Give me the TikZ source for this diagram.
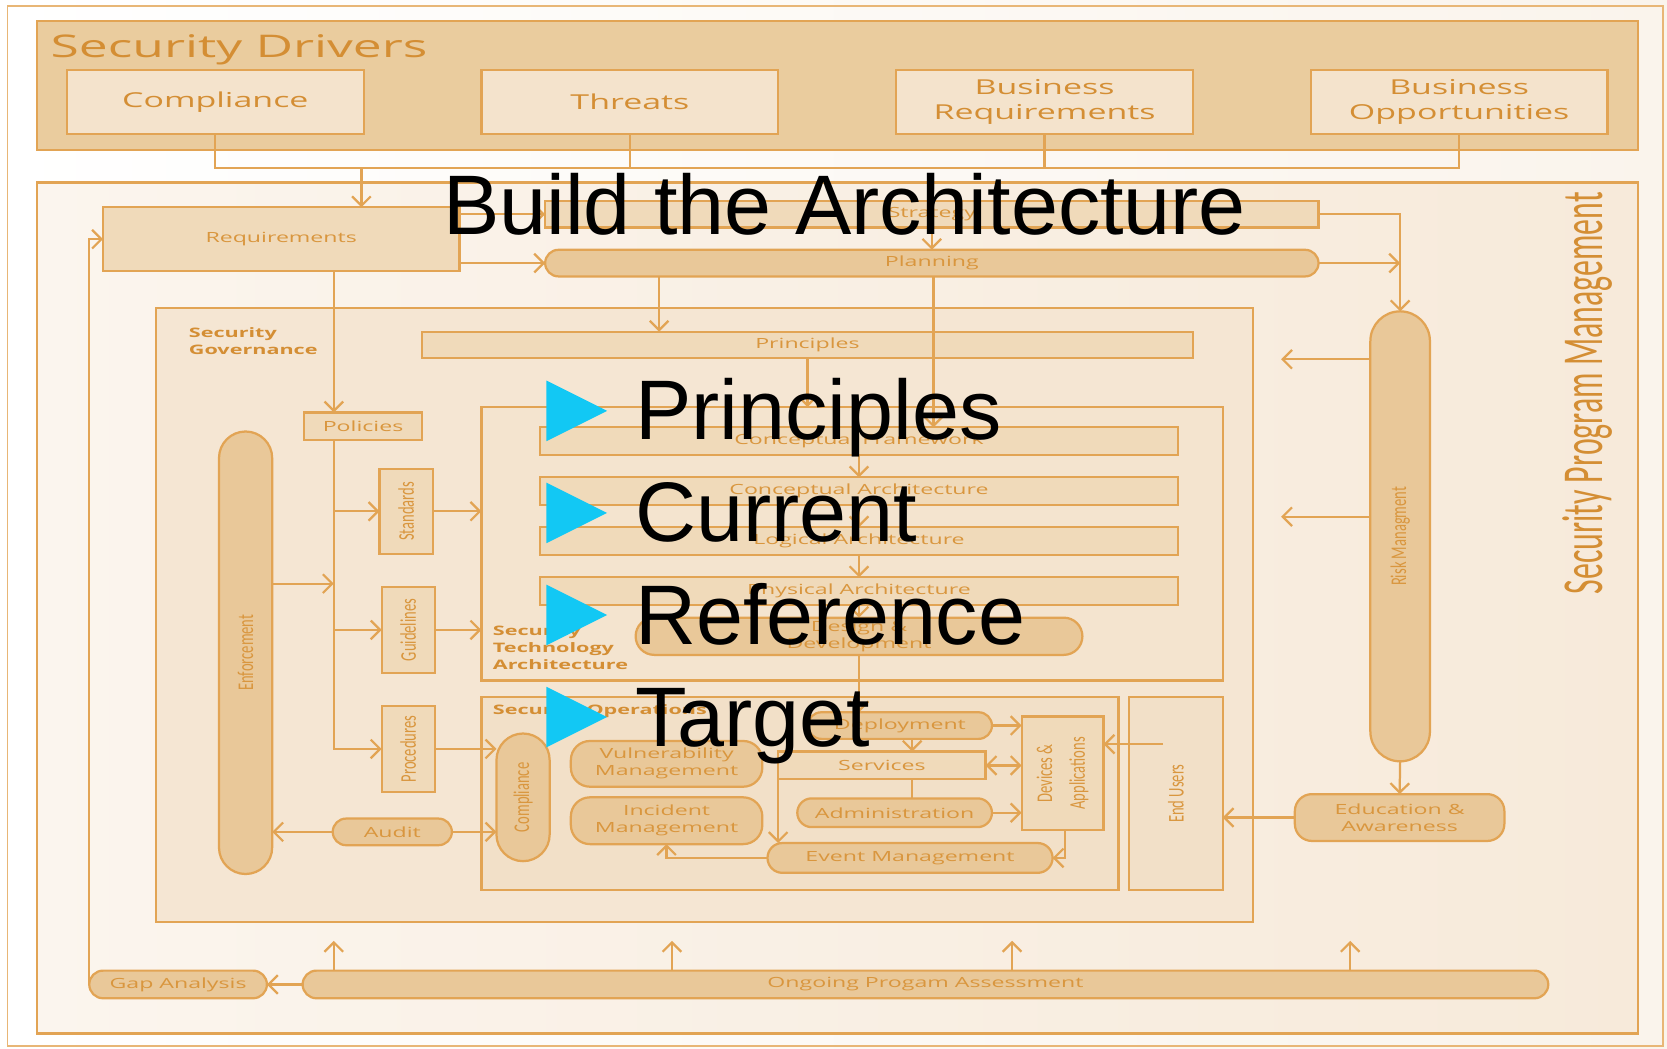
\documentclass[tikz,border=0pt]{standalone}
\usepackage{fontspec}
\setmainfont{Open Sans}
\newfontfamily\hs[FakeStretch=1.65]{Open Sans}
\newfontfamily\condS[FakeStretch=0.65]{Carlito}
\newfontfamily\condL[FakeStretch=0.55]{Carlito}
\newfontfamily\arl{Liberation Sans}
\usetikzlibrary{arrows.meta}
\definecolor{ln}{RGB}{226,164,84}
\definecolor{txt}{RGB}{217,150,62}
\definecolor{txtD}{RGB}{212,142,52}
\definecolor{boxF}{RGB}{240,218,186}
\definecolor{pillF}{RGB}{233,200,153}
\definecolor{dboxF}{RGB}{244,227,204}
\definecolor{bandF}{RGB}{234,204,158}
\definecolor{progL}{RGB}{251,245,238}
\definecolor{progR}{RGB}{247,234,218}
\definecolor{govF}{RGB}{245,230,211}
\definecolor{staF}{RGB}{244,228,207}
\definecolor{sopF}{RGB}{242,224,200}
\definecolor{bgR}{RGB}{250,244,236}
\definecolor{cyanB}{RGB}{18,200,244}
\tikzset{
 base/.style={draw=ln, line width=0.6pt, inner sep=0pt, outer sep=0pt, text=txt, align=center, rectangle},
 sm/.style={font=\hs\fontsize{3.75}{4.55}\selectfont},
 rbox/.style={base, sm, fill=boxF},
 pill/.style={base, sm, fill=pillF},
 dbox/.style={base, fill=dboxF, minimum width=2.79cm, minimum height=0.60cm, font=\hs\fontsize{5.5}{6.8}\selectfont, text=txtD},
 frm/.style={draw=ln, line width=0.6pt, inner sep=0pt, outer sep=0pt},
 con/.style={draw=ln, line width=0.6pt, -{Straight Barb[length=2.5pt,width=5pt]}},
 lnk/.style={draw=ln, line width=0.6pt},
 rlab/.style={font=\condS\fontsize{6}{8.8}\selectfont, text=txt, rotate=90, inner sep=0pt, align=center},
 boldlab/.style={font=\hs\bfseries\fontsize{3.5}{4.55}\selectfont, text=txtD, align=left, inner sep=0pt},
 big/.style={font=\arl\fontsize{22.6}{27}\selectfont, text=black, inner sep=0pt},
 blt/.style={fill=cyanB, draw=none}
}
\begin{document}
\begin{tikzpicture}[x=0.01cm,y=-0.01cm]
\useasboundingbox (0,0) rectangle (1568,986);
\fill[left color=white,right color=bgR] (0,0) rectangle (1568,986);
\draw[ln!80, line width=0.5pt] (7,6) rectangle (1564,984);

% ---------- Security Drivers ----------
\node[frm, fill=bandF, minimum width=15.05cm, minimum height=1.21cm] (drv) at (787.5,80.5) {};
\node[font=\hs\fontsize{8.35}{9}\selectfont, text=txtD, anchor=base west, inner sep=0pt] (drvT) at (47,54) {Security Drivers};
\node[dbox] (comp) at (202.5,96) {Compliance};
\node[dbox] (threats) at (592.5,96) {Threats};
\node[dbox] (bizreq) at (982.5,96) {Business\\Requirements};
\node[dbox] (bizopp) at (1372.5,96) {Business\\Opportunities};

% ---------- Program frame ----------
\node[frm, left color=progL, right color=progR, minimum width=15.05cm, minimum height=8.00cm] (prog) at (787.5,572) {};
\node[font=\condL\fontsize{15.5}{16}\selectfont, text=txtD, rotate=90, inner sep=0pt] (progT) at (1493,370) {Security Program Management};

\node[rbox, minimum width=3.35cm, minimum height=0.60cm] (req) at (264.5,225) {Requirements};
\node[rbox, minimum width=7.27cm, minimum height=0.25cm] (strat) at (876.5,201.5) {Strategy};
\node[pill, rounded corners=0.125cm, minimum width=7.27cm, minimum height=0.25cm] (plan) at (876.5,247.5) {Planning};

% ---------- Governance ----------
\node[frm, fill=govF, minimum width=10.31cm, minimum height=5.77cm] (gov) at (662.5,578.5) {};
\node[boldlab, anchor=west] (govT) at (177,321) {Security\\Governance};
\node[rbox, minimum width=7.25cm, minimum height=0.25cm] (princ) at (759.5,324.5) {Principles};
\node[rbox, minimum width=1.11cm, minimum height=0.26cm] (policies) at (341.5,401) {Policies};
\node[rbox, minimum width=0.50cm, minimum height=0.80cm] (std) at (382,481) {};
\node[rlab] (stdT) at (std.center) {Standards};
\node[rbox, minimum width=0.50cm, minimum height=0.81cm] (guide) at (384,592.5) {};
\node[rlab] (guideT) at (guide.center) {Guidelines};
\node[rbox, minimum width=0.50cm, minimum height=0.81cm] (proc) at (384,704.5) {};
\node[rlab] (procT) at (proc.center) {Procedures};
\node[pill, rounded corners=0.25cm, minimum width=0.50cm, minimum height=4.16cm] (enf) at (231,614) {};
\node[rlab] (enfT) at (enf.center) {Enforcement};
\node[pill, rounded corners=0.125cm, minimum width=1.12cm, minimum height=0.25cm] (audit) at (369,782.5) {Audit};

% ---------- Security Technology Architecture ----------
\node[frm, fill=staF, minimum width=6.97cm, minimum height=2.57cm] (sta) at (801.5,511.5) {};
\node[boldlab, anchor=west] (staT) at (463,609) {Security\\Technology\\Architecture};
\node[rbox, minimum width=6.00cm, minimum height=0.26cm] (cf) at (808,415) {Conceptual Framework};
\node[rbox, minimum width=6.00cm, minimum height=0.26cm] (ca) at (808,462) {Conceptual Architecture};
\node[rbox, minimum width=6.00cm, minimum height=0.26cm] (la) at (808,509) {Logical Architecture};
\node[rbox, minimum width=6.00cm, minimum height=0.26cm] (pa) at (808,556) {Physical Architecture};
\node[pill, rounded corners=0.175cm, minimum width=4.20cm, minimum height=0.35cm] (dd) at (808,598.5) {Design \&\\Development};

% ---------- Security Operations ----------
\node[frm, fill=sopF, minimum width=5.99cm, minimum height=1.81cm] (sop) at (752.5,746.5) {};
\node[boldlab, anchor=west] (sopT) at (463,669) {Security Operations};
\node[frm, fill=sopF, minimum width=0.88cm, minimum height=1.81cm] (endu) at (1106,746.5) {};
\node[rlab] (enduT) at (endu.center) {End Users};
\node[pill, rounded corners=0.25cm, minimum width=0.50cm, minimum height=1.20cm] (compl) at (492,750) {};
\node[rlab] (complT) at (compl.center) {Compliance};
\node[pill, rounded corners=0.18cm, minimum width=1.80cm, minimum height=0.43cm] (vuln) at (627,718.5) {Vulnerability\\Management};
\node[pill, rounded corners=0.18cm, minimum width=1.80cm, minimum height=0.44cm] (inc) at (627,772) {Incident\\Management};
\node[pill, rounded corners=0.125cm, minimum width=1.73cm, minimum height=0.25cm] (deploy) at (846.5,682.5) {Deployment};
\node[rbox, minimum width=1.95cm, minimum height=0.26cm] (serv) at (829.5,720) {Services};
\node[pill, rounded corners=0.135cm, minimum width=1.83cm, minimum height=0.27cm] (admin) at (841.5,764.5) {Administration};
\node[pill, rounded corners=0.14cm, minimum width=2.68cm, minimum height=0.28cm] (event) at (856,807) {Event Management};
\node[rbox, minimum width=0.77cm, minimum height=1.07cm] (dev) at (999.5,727.5) {};
\node[rlab] (devT) at (dev.center) {Devices \&\\Applications};

% ---------- Right side ----------
\node[pill, rounded corners=0.28cm, minimum width=0.56cm, minimum height=4.23cm] (risk) at (1317,504.5) {};
\node[rlab] (riskT) at (risk.center) {Risk Managment};
\node[pill, rounded corners=0.16cm, minimum width=1.97cm, minimum height=0.44cm] (edu) at (1316.5,769) {Education \&\\Awareness};

% ---------- Bottom ----------
\node[pill, rounded corners=0.13cm, minimum width=1.67cm, minimum height=0.26cm] (gap) at (167.5,926) {Gap Analysis};
\node[pill, rounded corners=0.13cm, minimum width=11.71cm, minimum height=0.26cm] (ongo) at (870.5,926) {Ongoing Progam Assessment};

% ---------- helper coordinates ----------
\coordinate (bus) at (340,158);
\coordinate (x314) at (314,0);
\coordinate (x620) at (620,0);
\coordinate (x878) at (878,0);
\coordinate (x858) at (858,0);
\coordinate (x1002) at (1002,0);
\coordinate (x1205) at (1205,0);
\coordinate (x632) at (632,0);
\coordinate (x952) at (952,0);
\coordinate (x1270) at (1270,0);
\coordinate (y338) at (0,338);
\coordinate (y486) at (0,486);
\coordinate (y549) at (0,549);
\coordinate (eu1) at (1094,700);

% ---------- connectors ----------
\draw[lnk] (comp.south) |- (bizopp.south |- bus) -- (bizopp.south);
\draw[lnk] (threats.south) -- (threats.south |- bus);
\draw[lnk] (bizreq.south) -- (bizreq.south |- bus);
\draw[con] (bus) -- (bus |- req.north);

\draw[con] (req.east |- strat.west) -- (strat.west);
\draw[con] (req.east |- plan.west) -- (plan.west);
\draw[con] (strat.south) -- (plan.north);
\draw[con] (strat.east) -| (risk.north);
\draw[con] (plan.east) -- (plan.east -| risk.north);
\draw[con] (x620 |- plan.south) -- (x620 |- princ.north);
\draw[con] (x878 |- plan.south) -- (x878 |- cf.north);
\draw[con] (princ.south) -- (princ.south |- sta.north);

\draw[con] (x314 |- req.south) -- (x314 |- policies.north);
\draw[con] (x314 |- policies.south) |- (proc.west);
\draw[con] (x314 |- std.west) -- (std.west);
\draw[con] (x314 |- guide.west) -- (guide.west);
\draw[con] (std.east) -- (std.east -| sta.west);
\draw[con] (guide.east) -- (guide.east -| sta.west);
\draw[con] (proc.east) -- (proc.east -| compl.west);
\draw[con] (enf.east |- y549) -- (x314 |- y549);
\draw[con] (audit.west) -- (audit.west -| enf.east);
\draw[con] (audit.east) -- (audit.east -| compl.west);

\draw[con] (cf.south) -- (ca.north);
\draw[con] (ca.south) -- (la.north);
\draw[con] (la.south) -- (pa.north);
\draw[con] (pa.south) -- (dd.north);
\draw[con] (dd.south) -- (dd.south |- deploy.north);

\draw[con] (deploy.east) -- (deploy.east -| dev.west);
\draw[con] (x858 |- deploy.south) -- (x858 |- serv.north);
\draw[con, {Straight Barb[length=2.5pt,width=5pt]}-{Straight Barb[length=2.5pt,width=5pt]}] (serv.east) -- (serv.east -| dev.west);
\draw[lnk] (x858 |- serv.south) -- (x858 |- admin.north);
\draw[con] (admin.east) -- (admin.east -| dev.west);
\draw[con] (serv.south west) -- (serv.south west |- event.north);
\draw[con] (x1002 |- dev.south) |- (event.east);
\draw[con] (event.west) -| (inc.south);
\draw[con] (eu1) -- (eu1 -| dev.east);

\draw[con] (risk.west |- y338) -- (x1205 |- y338);
\draw[con] (risk.west |- y486) -- (x1205 |- y486);
\draw[con] (risk.south) -- (edu.north);
\draw[con] (edu.west) -- (edu.west -| endu.east);

\draw[con] (ongo.west) -- (gap.east);
\draw[con] (gap.west) |- (req.west);
\draw[con] (x314 |- ongo.north) -- ++(0,-28);
\draw[con] (x632 |- ongo.north) -- ++(0,-28);
\draw[con] (x952 |- ongo.north) -- ++(0,-28);
\draw[con] (x1270 |- ongo.north) -- ++(0,-28);

% ---------- overlay ----------
\node[big, anchor=base west] (ttl) at (416,221) {Build the Architecture};
\fill[blt] (514,358) -- (571,386.5) -- (514,415) -- cycle;
\fill[blt] (514,454) -- (571,482.5) -- (514,511) -- cycle;
\fill[blt] (514,550) -- (571,578.5) -- (514,607) -- cycle;
\fill[blt] (514,646) -- (571,674.5) -- (514,703) -- cycle;
\node[big, anchor=base west] (b1) at (597,413) {Principles};
\node[big, anchor=base west] (b2) at (597,509.5) {Current};
\node[big, anchor=base west] (b3) at (597,606) {Reference};
\node[big, anchor=base west] (b4) at (597,702) {Target};
\end{tikzpicture}
\end{document}
